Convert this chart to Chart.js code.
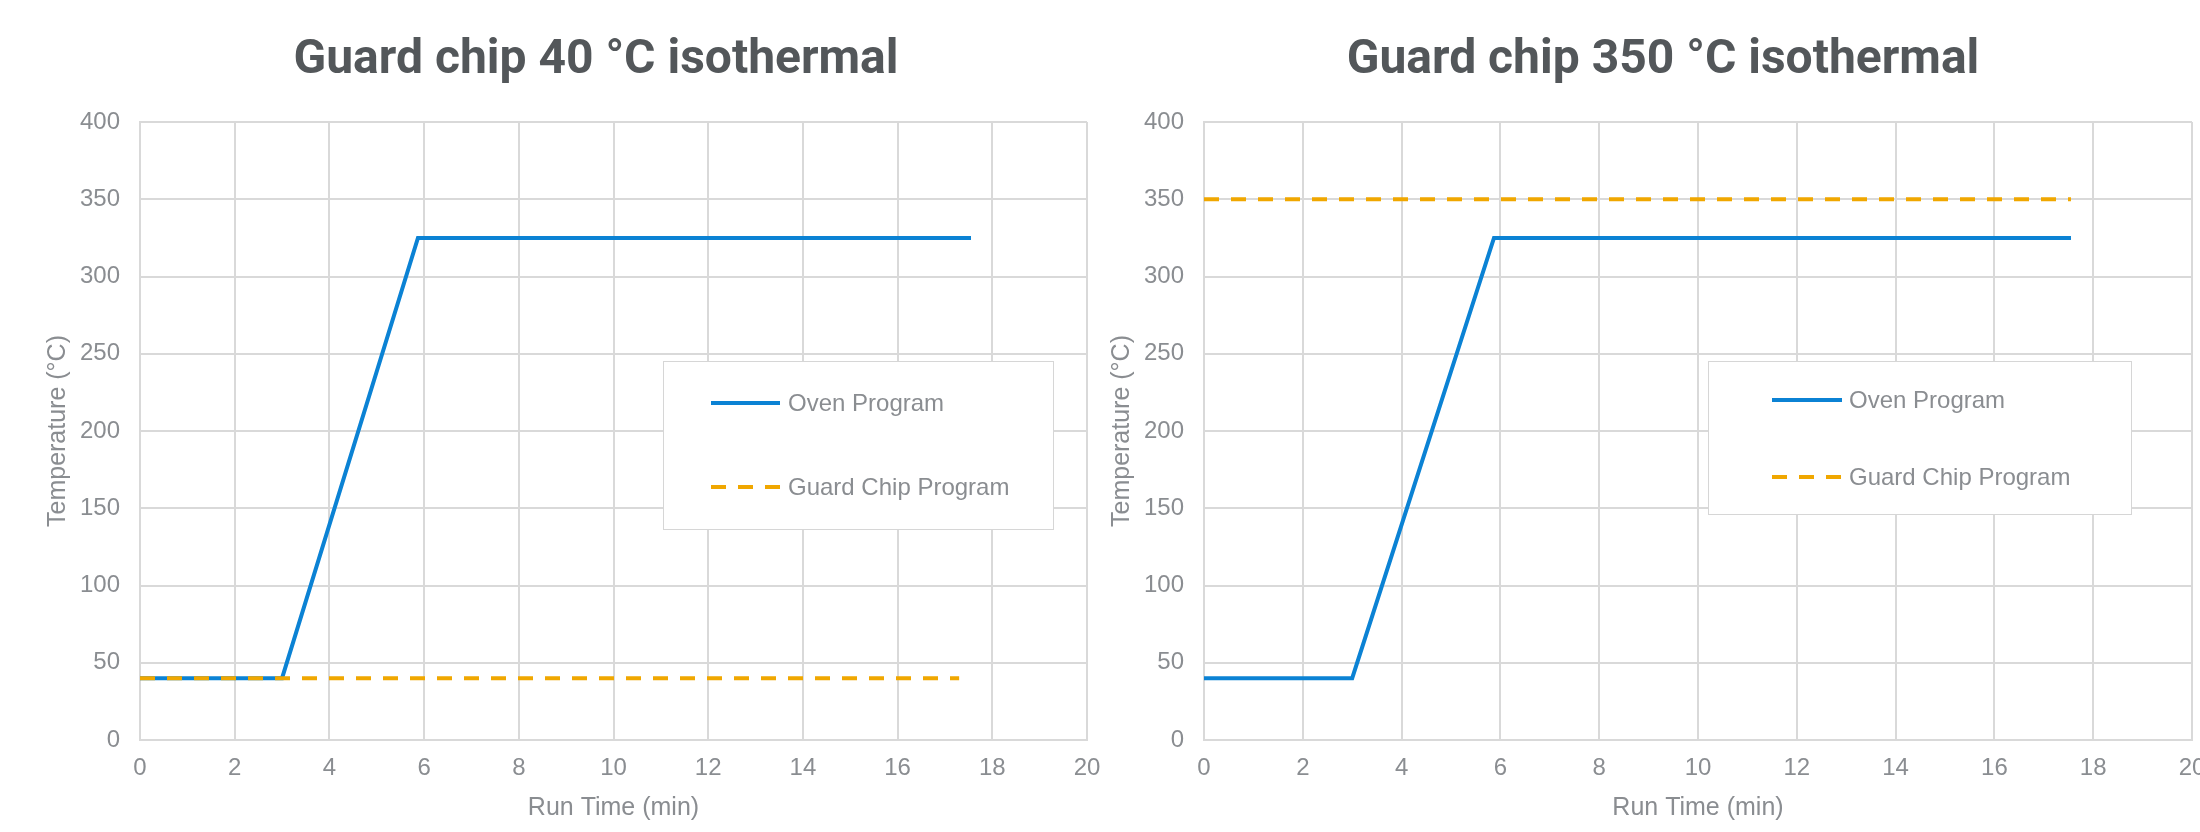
<!DOCTYPE html>
<html>
<head>
<meta charset="utf-8">
<script src="https://cdn.jsdelivr.net/npm/chart.js@4.4.1/dist/chart.umd.min.js"></script>
<style>
  html, body { margin: 0; padding: 0; background: #ffffff; overflow: hidden; width: 2200px; height: 832px; }
  .wrap { position: absolute; top: 0; height: 832px; }
  #w1 { left: 0; width: 1140px; }
  #w2 { left: 1064px; width: 1194px; }
</style>
</head>
<body>
<div class="wrap" id="w1"><canvas id="c1"></canvas></div>
<div class="wrap" id="w2"><canvas id="c2"></canvas></div>
<script>
// ---- data ----
const titles = ['Guard chip 40 °C isothermal', 'Guard chip 350 °C isothermal'];
const seriesNames = ['Oven Program', 'Guard Chip Program'];
const xTitle = 'Run Time (min)';
const yTitle = 'Temperature (°C)';

const ovenTime = [0, 3, 5.87, 17.55];
const ovenTemp = [40, 40, 325, 325];

const guard40Time = [0, 17.3];
const guard40Temp = [40, 40];

const guard350Time = [0, 17.55];
const guard350Temp = [350, 350];

const xMin = 0, xMax = 20, xStep = 2;
const yMin = 0, yMax = 400, yStep = 50;

// ---- styles ----
const BLUE = '#0b82d4';
const ORANGE = '#f0a700';
const GRID = '#d9d9d9';
const TICK = '#8a8d91';
const TITLE = '#53575a';
const FONT = '"Liberation Sans", Arial, sans-serif';

function pts(xs, ys) { return xs.map((x, i) => ({ x: x, y: ys[i] })); }

const decoPlugin = {
  id: 'deco',
  afterDraw(chart) {
    const o = chart.options.plugins.deco;
    const ctx = chart.ctx;
    ctx.save();
    // title
    ctx.font = 'bold 48px Roboto';
    ctx.fillStyle = TITLE;
    ctx.textAlign = 'center';
    ctx.textBaseline = 'alphabetic';
    ctx.fillText(o.title, o.titleX, 73);
    // legend box
    const b = o.box;
    ctx.fillStyle = '#ffffff';
    ctx.fillRect(b.x, b.y, b.w, b.h);
    ctx.strokeStyle = '#d6d6d6';
    ctx.lineWidth = 1;
    ctx.strokeRect(b.x + 0.5, b.y + 0.5, b.w, b.h);
    const dsOrder = [1, 0]; // Oven first, Guard second
    dsOrder.forEach((di, k) => {
      const ds = chart.data.datasets[di];
      const y = o.rows[k];
      ctx.beginPath();
      ctx.strokeStyle = ds.borderColor;
      ctx.lineWidth = 4;
      ctx.lineCap = 'butt';
      ctx.setLineDash(ds.borderDash || []);
      ctx.moveTo(o.lineX0, y);
      ctx.lineTo(o.lineX1, y);
      ctx.stroke();
      ctx.setLineDash([]);
      ctx.font = '24px ' + FONT;
      ctx.fillStyle = TICK;
      ctx.textAlign = 'left';
      ctx.textBaseline = 'middle';
      ctx.fillText(ds.label, o.textX, y + 1);
    });
    ctx.restore();
  }
};

function makeChart(id, guardT, guardY, deco, padRight) {
  return new Chart(document.getElementById(id), {
    type: 'line',
    data: {
      datasets: [
        {
          label: seriesNames[1],
          data: pts(guardT, guardY),
          borderColor: ORANGE,
          borderWidth: 4,
          borderDash: [15, 12],
          borderCapStyle: 'butt',
          pointRadius: 0,
          fill: false,
          tension: 0,
          order: 0
        },
        {
          label: seriesNames[0],
          data: pts(ovenTime, ovenTemp),
          borderColor: BLUE,
          borderWidth: 4,
          borderCapStyle: 'butt',
          pointRadius: 0,
          fill: false,
          tension: 0,
          order: 1
        }
      ]
    },
    options: {
      responsive: true,
      maintainAspectRatio: false,
      animation: false,
      layout: { padding: { top: 122, left: 0, right: padRight, bottom: 0 } },
      plugins: {
        legend: { display: false },
        title: { display: false },
        tooltip: { enabled: false },
        deco: deco
      },
      scales: {
        x: {
          type: 'linear',
          min: xMin, max: xMax,
          ticks: { stepSize: xStep, color: TICK, font: { family: FONT, size: 24 }, padding: 14, maxRotation: 0 },
          grid: { color: GRID, lineWidth: 2, drawTicks: false },
          border: { display: true, color: GRID, width: 2 },
          title: { display: true, text: xTitle, color: TICK, font: { family: FONT, size: 25 }, padding: { top: 4, bottom: 9 } },
          afterFit(s) { s.height = 92; }
        },
        y: {
          type: 'linear',
          min: yMin, max: yMax,
          ticks: { stepSize: yStep, color: TICK, font: { family: FONT, size: 24 }, padding: 20 },
          grid: { color: GRID, lineWidth: 2, drawTicks: false },
          border: { display: true, color: GRID, width: 2 },
          title: { display: true, text: yTitle, color: TICK, font: { family: FONT, size: 25 }, padding: { top: 43, bottom: 4 } },
          afterFit(s) { s.width = 140; }
        }
      }
    },
    plugins: [decoPlugin]
  });
}

makeChart('c1', guard40Time, guard40Temp, {
  title: titles[0], titleX: 596,
  box: { x: 663, y: 361, w: 390, h: 168 },
  rows: [403, 487], lineX0: 711, lineX1: 780, textX: 788
}, 53);

makeChart('c2', guard350Time, guard350Temp, {
  title: titles[1], titleX: 599,
  box: { x: 644, y: 361, w: 423, h: 153 },
  rows: [400, 477], lineX0: 708, lineX1: 778, textX: 785
}, 66);
</script>
</body>
</html>
